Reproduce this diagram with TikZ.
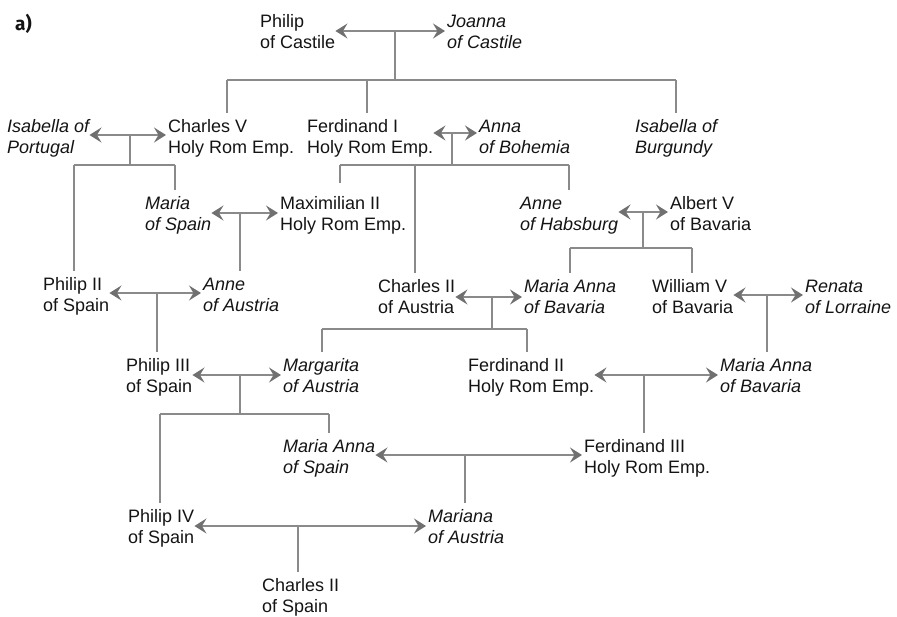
\documentclass[tikz,border=0pt]{standalone}
\usepackage{fontspec}
\setmainfont{Liberation Sans}
\newfontfamily\tagfont{Fira Sans}
\usetikzlibrary{arrows.meta}
\definecolor{ink}{HTML}{141414}
\definecolor{wire}{HTML}{8A8A8A}
\definecolor{tie}{HTML}{8A8A8A}
\definecolor{tiehead}{HTML}{707070}
% two-line name: each line carries a strut so every box has the same height
\newcommand{\nm}[2]{\strut #1\\\strut #2}
\begin{document}
\begin{tikzpicture}[x=1pt,y=-1pt,
  person/.style={anchor=west, inner sep=0pt, align=left, text=ink,
                 font=\fontsize{18}{20.5}\selectfont},
  spouse/.style={person, font=\fontsize{18}{20.5}\selectfont\itshape},
  couple/.style={draw=tie, line width=1.9pt,
                 {Stealth[length=12pt,width=15pt,inset=4.5pt,color=tiehead]}-{Stealth[length=12pt,width=15pt,inset=4.5pt,color=tiehead]},
                 shorten >=2pt},
  tree/.style={draw=wire, line width=1.1pt},
  drop/.style={tree, shorten >=5.5pt}]
\useasboundingbox (0,0) rectangle (897,616);

\node[anchor=west, inner sep=0pt, text=ink, font=\tagfont\bfseries\fontsize{19}{20}\selectfont] (tag) at (15,24) {a)};

% people
\node[person] (philipC)   at (260,34)  {\nm{Philip}{of Castile}};
\node[spouse] (joanna)    at (447,34)  {\nm{Joanna}{of Castile}};
\node[spouse] (isabP)     at (7,139)   {\nm{Isabella of}{Portugal}};
\node[person] (charlesV)  at (168,139) {\nm{Charles V}{Holy Rom Emp.}};
\node[person] (ferdI)     at (307,139) {\nm{Ferdinand I}{Holy Rom Emp.}};
\node[spouse] (annaB)     at (479,139) {\nm{Anna}{of Bohemia}};
\node[spouse] (isabB)     at (635,139) {\nm{Isabella of}{Burgundy}};
\node[spouse] (mariaS)    at (145,216) {\nm{Maria}{of Spain}};
\node[person] (maxII)     at (280,216) {\nm{Maximilian II}{Holy Rom Emp.}};
\node[spouse] (anneH)     at (520,216) {\nm{Anne}{of Habsburg}};
\node[person] (albertV)   at (670,216) {\nm{Albert V}{of Bavaria}};
\node[person] (philipII)  at (43,297)  {\nm{Philip II}{of Spain}};
\node[spouse] (anneA)     at (203,297) {\nm{Anne}{of Austria}};
\node[person] (charlesIIA) at (378,299) {\nm{Charles II}{of Austria}};
\node[spouse] (mariaAB)   at (524,299) {\nm{Maria Anna}{of Bavaria}};
\node[person] (williamV)  at (652,299) {\nm{William V}{of Bavaria}};
\node[spouse] (renata)    at (805,299) {\nm{Renata}{of Lorraine}};
\node[person] (philipIII) at (126,378) {\nm{Philip III}{of Spain}};
\node[spouse] (margarita) at (283,378) {\nm{Margarita}{of Austria}};
\node[person] (ferdII)    at (468,378) {\nm{Ferdinand II}{Holy Rom Emp.}};
\node[spouse] (mariaAB2)  at (720,378) {\nm{Maria Anna}{of Bavaria}};
\node[spouse] (mariaAS)   at (283,459) {\nm{Maria Anna}{of Spain}};
\node[person] (ferdIII)   at (584,459) {\nm{Ferdinand III}{Holy Rom Emp.}};
\node[person] (philipIV)  at (128,529) {\nm{Philip IV}{of Spain}};
\node[spouse] (mariana)   at (428,529) {\nm{Mariana}{of Austria}};
\node[person] (charlesIIS) at (262,598) {\nm{Charles II}{of Spain}};

% marriages
\draw[couple] ([yshift=3pt]philipC.east)  -- ([yshift=3pt]joanna.west);
\draw[couple] ([yshift=4pt]isabP.east)    -- ([yshift=4pt]charlesV.west);
\draw[couple] ([yshift=6pt]ferdI.east)    -- ([yshift=6pt]annaB.west);
\draw[couple] ([yshift=3pt]mariaS.east)   -- ([yshift=3pt]maxII.west);
\draw[couple] ([yshift=4pt]anneH.east)    -- ([yshift=4pt]albertV.west);
\draw[couple] ([yshift=4pt]philipII.east) -- ([yshift=4pt]anneA.west);
\draw[couple] ([yshift=2pt]charlesIIA.east) -- ([yshift=2pt]mariaAB.west);
\draw[couple] ([yshift=4pt]williamV.east) -- ([yshift=4pt]renata.west);
\draw[couple] ([yshift=3pt]philipIII.east) -- ([yshift=3pt]margarita.west);
\draw[couple] ([yshift=3pt]ferdII.east)   -- ([yshift=3pt]mariaAB2.west);
\draw[couple] ([yshift=4pt]mariaAS.east)  -- ([yshift=4pt]ferdIII.west);
\draw[couple] ([yshift=3pt]philipIV.east) -- ([yshift=3pt]mariana.west);

% points on the marriage lines where the descent starts
\coordinate (u0)  at (395,31);
\coordinate (u1)  at (130,135);
\coordinate (u2)  at (452,133);
\coordinate (u3)  at (240,213);
\coordinate (u4)  at (643,212);
\coordinate (u5)  at (157,293);
\coordinate (u6)  at (492,297);
\coordinate (u7)  at (767,295);
\coordinate (u8)  at (240,375);
\coordinate (u9)  at (644,375);
\coordinate (u10) at (465,455);
\coordinate (u11) at (298,526);

% Philip & Joanna
\draw[tree] (u0) -- (u0 |- 0,80);
\draw[tree] (227,80) -- (676,80);
\draw[drop] (227,80) coordinate (d) -- (d |- charlesV.north);
\draw[drop] (367,80) coordinate (d) -- (d |- ferdI.north);
\draw[drop] (676,80) coordinate (d) -- (d |- isabB.north);

% Charles V & Isabella
\draw[tree] (u1) -- (u1 |- 0,165);
\draw[tree] (74,165) -- (175,165);
\draw[drop] (74,165) coordinate (d) -- (d |- philipII.north);
\draw[drop] (175,165) coordinate (d) -- (d |- mariaS.north);

% Ferdinand I & Anna
\draw[tree] (u2) -- (u2 |- 0,165);
\draw[tree] (340,165) -- (569,165);
\draw[drop, shorten >=12pt] (340,165) coordinate (d) -- (d |- maxII.north);
\draw[drop] (415,165) coordinate (d) -- (d |- charlesIIA.north);
\draw[drop] (569,165) coordinate (d) -- (d |- anneH.north);

% Maria & Maximilian II
\draw[drop] (u3) -- (u3 |- anneA.north);

% Anne & Albert V
\draw[tree] (u4) -- (u4 |- 0,248);
\draw[tree] (570,248) -- (692,248);
\draw[drop] (570,248) coordinate (d) -- (d |- mariaAB.north);
\draw[drop] (692,248) coordinate (d) -- (d |- williamV.north);

% Philip II & Anne
\draw[drop] (u5) -- (u5 |- philipIII.north);

% Charles II & Maria Anna
\draw[tree] (u6) -- (u6 |- 0,329);
\draw[tree] (322,329) -- (527,329);
\draw[drop] (322,329) coordinate (d) -- (d |- margarita.north);
\draw[drop] (527,329) coordinate (d) -- (d |- ferdII.north);

% William V & Renata
\draw[drop] (u7) -- (u7 |- mariaAB2.north);

% Philip III & Margarita
\draw[tree] (u8) -- (u8 |- 0,414);
\draw[tree] (160,414) -- (329,414);
\draw[drop] (160,414) coordinate (d) -- (d |- philipIV.north);
\draw[drop] (329,414) coordinate (d) -- (d |- mariaAS.north);

% Ferdinand II & Maria Anna
\draw[drop] (u9) -- (u9 |- ferdIII.north);

% Maria Anna & Ferdinand III
\draw[drop] (u10) -- (u10 |- mariana.north);

% Philip IV & Mariana
\draw[drop] (u11) -- (u11 |- charlesIIS.north);
\end{tikzpicture}
\end{document}
